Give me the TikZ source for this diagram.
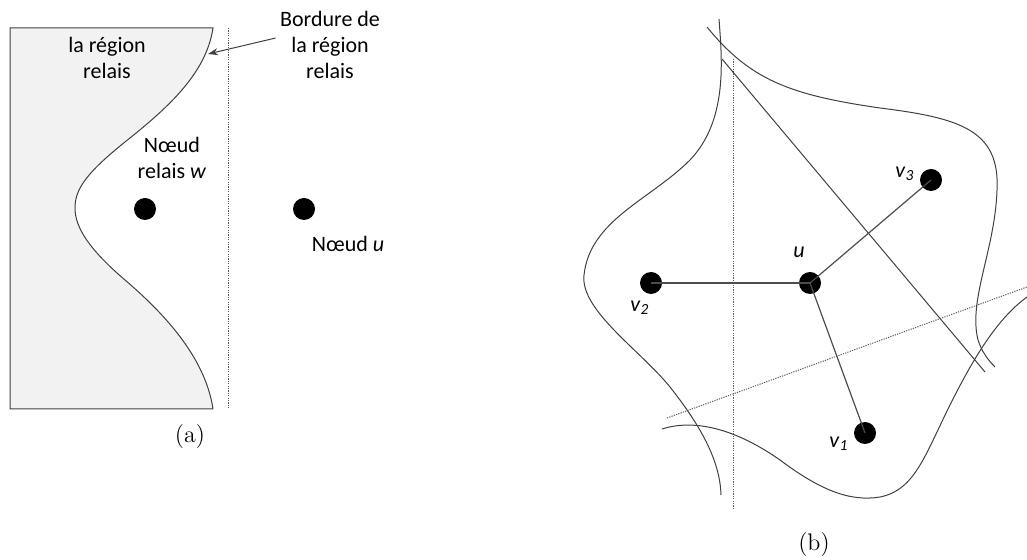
\documentclass[tikz,border=0pt]{standalone}
\usepackage{fontspec}
\newfontfamily\calib{Carlito}
\usetikzlibrary{arrows.meta}
\tikzset{
  dot/.style={circle,fill=black,inner sep=0pt,minimum size=11pt},
  lbl/.style={font=\calib\fontsize{11}{13}\selectfont,align=center,inner sep=0pt},
  trait/.style={draw=black!75,line width=0.5pt},
  pointille/.style={draw=black!65,line width=0.5pt,dash pattern=on 0.6pt off 0.6pt},
  edge/.style={draw=black!70,line width=0.6pt},
}
\begin{document}
\begin{tikzpicture}[x=0.5pt,y=-0.5pt]
\useasboundingbox (0,0) rectangle (1027,560);
% (a) la région relais
\filldraw[fill=gray!10,trait] (213,409) -- (10,409) -- (10,28) -- (213,28)
  .. controls (206,75) and (165,110) .. (125,142)
  .. controls (85,174) and (75,190) .. (75,208)
  .. controls (75,228) and (90,250) .. (125,280)
  .. controls (160,310) and (205,355) .. (213,409);
\draw[pointille] (228,28) -- (228,409);
\node[lbl] (reg) at (107,58) {la région\\relais};
\node[lbl] (bord) at (330,45) {Bordure de\\la région\\relais};
\coordinate (pb) at (208,54);
\draw[trait,-{Stealth[length=5pt,width=3.5pt]}] ([xshift=-2pt,yshift=3.5pt]bord.west) -- (pb);
\node[lbl] (tw) at (172,158) {N\oe ud\\relais \textit{w}};
\node[dot] (w) at (145,209) {};
\node[dot] (u0) at (304,209) {};
\node[lbl] (tu0) at (348,244) {N\oe ud \textit{u}};
\node[font=\large] (ca) at (190,437) {(a)};
% (b) voisins de u
\draw[pointille] (733,59) -- (733,508);
\draw[trait] (722,59) -- (985,372);
\draw[pointille] (667,418) -- (1027,287);
\draw[trait] (707,27) .. controls (750,80) and (790,95) .. (880,108)
  .. controls (960,118) and (1000,130) .. (997,190)
  .. controls (995,250) and (968,300) .. (978,340)
  .. controls (982,352) and (988,360) .. (995,367);
\draw[trait] (719,19) .. controls (722,60) and (728,120) .. (690,160)
  .. controls (650,200) and (590,220) .. (584,275)
  .. controls (580,310) and (640,350) .. (670,387)
  .. controls (700,425) and (720,460) .. (721,495);
\draw[trait] (662,429) .. controls (690,420) and (730,425) .. (780,460)
  .. controls (820,490) and (850,502) .. (880,497)
  .. controls (915,490) and (925,455) .. (950,405)
  .. controls (970,365) and (995,320) .. (1027,297);
\node[dot] (v3) at (931,180) {};
\node[dot] (u) at (810,283) {};
\node[dot] (v2) at (651,283) {};
\node[dot] (v1) at (865,433) {};
\draw[edge] (v2.center) -- (u.center);
\draw[edge] (u.center) -- (v3.center);
\draw[edge] (u.center) -- (v1.center);
\node[lbl] (tv3) at (905,174) {\textit{v}\textsubscript{\textit{3}}};
\node[lbl] (tu) at (799,252) {\textit{u}};
\node[lbl] (tv2) at (640,308) {\textit{v}\textsubscript{\textit{2}}};
\node[lbl] (tv1) at (839,444) {\textit{v}\textsubscript{\textit{1}}};
\node[font=\large] (cb) at (814,545) {(b)};
\end{tikzpicture}
\end{document}
